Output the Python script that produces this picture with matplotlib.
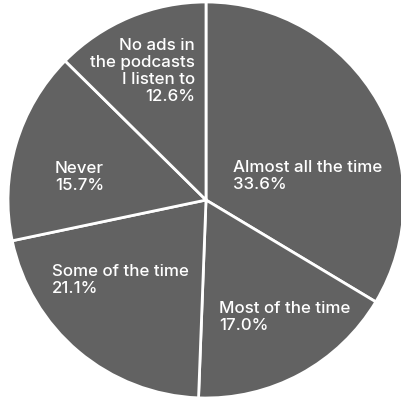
import matplotlib
matplotlib.use("Agg")
import matplotlib.pyplot as plt

categories = ["Almost all the time", "Most of the time", "Some of the time", "Never",
              "No ads in\nthe podcasts\nI listen to"]
values = [33.6, 17.0, 21.1, 15.7, 12.6]

# label anchor positions in pixels (x, cap-top y) and alignment
label_px = [(233, 161, "left"), (219, 302, "left"), (52, 265, "left"),
            (55, 162, "left"), (195, 39, "right")]

W, H = 401, 404
fig = plt.figure(figsize=(W / 100, H / 100), dpi=100)
cx, cy, r = 206, 200, 198
ax = fig.add_axes([(cx - r) / W, (H - cy - r) / H, 2 * r / W, 2 * r / H])
ax.set_xlim(-1, 1)
ax.set_ylim(-1, 1)
ax.axis("off")

ax.pie(values, startangle=90, counterclock=False, radius=1,
       colors=["#626262"] * len(values),
       wedgeprops=dict(edgecolor="white", linewidth=2.0))
ax.set_xlim(-1, 1)
ax.set_ylim(-1, 1)

for cat, v, (px, py, ha) in zip(categories, values, label_px):
    fx = px / W
    fy = 1 - (py - 1) / H
    fig.text(fx, fy, f"{cat}\n{v:.1f}%", ha=ha, va="top", multialignment=ha,
             color="white", fontsize=12.2, family="Inter", fontweight="medium",
             linespacing=1.18)

fig.savefig("out.png", dpi=100)
